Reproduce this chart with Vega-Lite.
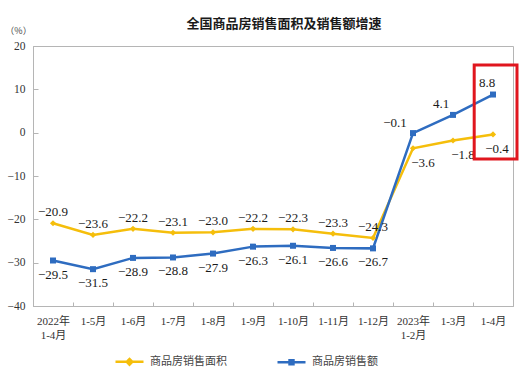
{
  "$schema": "https://vega.github.io/schema/vega-lite/v6.json",
  "width": 480,
  "height": 260,
  "autosize": {"type": "none"},
  "padding": {"left": 33, "top": 46, "right": 18, "bottom": 70},
  "background": "white",
  "config": {
    "view": {"stroke": "#b5b5b5", "strokeWidth": 1}
  },
  "title": {
    "text": "全国商品房销售面积及销售额增速",
    "font": "Noto Sans CJK SC",
    "fontSize": 13,
    "fontWeight": "bold",
    "color": "#1a1a1a",
    "frame": "group",
    "anchor": "middle",
    "dx": 11,
    "offset": -5
  },
  "datasets": {
    "main": [
      {"m": "2022年|1-4月", "s": "商品房销售面积", "v": -20.9},
      {"m": "1-5月", "s": "商品房销售面积", "v": -23.6},
      {"m": "1-6月", "s": "商品房销售面积", "v": -22.2},
      {"m": "1-7月", "s": "商品房销售面积", "v": -23.1},
      {"m": "1-8月", "s": "商品房销售面积", "v": -23.0},
      {"m": "1-9月", "s": "商品房销售面积", "v": -22.2},
      {"m": "1-10月", "s": "商品房销售面积", "v": -22.3},
      {"m": "1-11月", "s": "商品房销售面积", "v": -23.3},
      {"m": "1-12月", "s": "商品房销售面积", "v": -24.3},
      {"m": "2023年|1-2月", "s": "商品房销售面积", "v": -3.6},
      {"m": "1-3月", "s": "商品房销售面积", "v": -1.8},
      {"m": "1-4月", "s": "商品房销售面积", "v": -0.4},
      {"m": "2022年|1-4月", "s": "商品房销售额", "v": -29.5},
      {"m": "1-5月", "s": "商品房销售额", "v": -31.5},
      {"m": "1-6月", "s": "商品房销售额", "v": -28.9},
      {"m": "1-7月", "s": "商品房销售额", "v": -28.8},
      {"m": "1-8月", "s": "商品房销售额", "v": -27.9},
      {"m": "1-9月", "s": "商品房销售额", "v": -26.3},
      {"m": "1-10月", "s": "商品房销售额", "v": -26.1},
      {"m": "1-11月", "s": "商品房销售额", "v": -26.6},
      {"m": "1-12月", "s": "商品房销售额", "v": -26.7},
      {"m": "2023年|1-2月", "s": "商品房销售额", "v": -0.1},
      {"m": "1-3月", "s": "商品房销售额", "v": 4.1},
      {"m": "1-4月", "s": "商品房销售额", "v": 8.8}
    ],
    "box": [
      {"x1": 11.03, "x2": 12.1, "y1": 15.6, "y2": -6.1}
    ]
  },
  "layer": [
    {
      "data": {"name": "main"},
      "encoding": {
        "x": {
          "field": "m",
          "type": "nominal",
          "sort": null,
          "scale": {"type": "band", "paddingInner": 0, "paddingOuter": 0},
          "axis": {
            "title": null,
            "labelAngle": 0,
            "labelExpr": "split(datum.label, '|')",
            "labelFont": "Liberation Serif, Noto Sans CJK SC",
            "labelFontSize": 11,
            "labelColor": "#333333",
            "labelLineHeight": 14,
            "labelBaseline": "top",
            "tickBand": "extent",
            "tickSize": -4,
            "labelPadding": 13,
            "tickColor": "#b5b5b5",
            "domainColor": "#b5b5b5",
            "grid": false
          }
        },
        "y": {
          "field": "v",
          "type": "quantitative",
          "scale": {"domain": [-40, 20], "nice": false, "zero": false},
          "axis": {
            "values": [-40, -30, -20, -10, 0, 10, 20],
            "grid": false,
            "title": "（%）",
            "titleAngle": 0,
            "titleX": -15,
            "titleY": -16,
            "titleAlign": "center",
            "titleBaseline": "middle",
            "titleFont": "Noto Sans CJK SC",
            "titleFontSize": 9,
            "titleFontWeight": "normal",
            "titleColor": "#444444",
            "labelFont": "Liberation Serif",
            "labelFontSize": 11.5,
            "labelColor": "#333333",
            "tickSize": -5,
            "labelPadding": 13,
            "tickColor": "#b5b5b5",
            "domainColor": "#b5b5b5"
          }
        },
        "color": {
          "field": "s",
          "type": "nominal",
          "sort": null,
          "scale": {"domain": ["商品房销售面积", "商品房销售额"], "range": ["#F5BE0B", "#2E6CC0"]},
          "legend": {
            "title": null,
            "orient": "none",
            "direction": "horizontal",
            "legendX": 81,
            "legendY": 300,
            "symbolSize": 784,
            "symbolStrokeWidth": 2.5,
            "labelFont": "Noto Sans CJK SC",
            "labelFontSize": 11,
            "labelColor": "#444444",
            "labelOffset": 5,
            "columnPadding": 45,
            "encode": {
              "symbols": {
                "update": {
                  "shape": {"signal": "datum.value === '商品房销售面积' ? 'M-1,0H1M-0.2,0L0,-0.2L0.2,0L0,0.2Z' : 'M-1,0H1M-0.14,-0.14H0.14V0.14H-0.14Z'"},
                  "fill": {"scale": "color", "field": "value"},
                  "strokeWidth": {"value": 2.5}
                }
              }
            }
          }
        }
      },
      "layer": [
        {"mark": {"type": "line", "strokeWidth": 2.5}},
        {
          "transform": [{"filter": "datum.s === '商品房销售面积'"}],
          "mark": {"type": "point", "filled": true, "size": 38, "opacity": 1, "shape": "diamond"}
        },
        {
          "transform": [{"filter": "datum.s === '商品房销售额'"}],
          "mark": {"type": "point", "filled": true, "size": 36, "opacity": 1, "shape": "square"}
        },
        {
          "transform": [{"filter": "datum.s === '商品房销售面积' && indexof(['2023年|1-2月', '1-3月', '1-4月'], datum.m) < 0"}],
          "mark": {"type": "text", "dy": -11, "font": "Liberation Serif", "fontSize": 13},
          "encoding": {"text": {"field": "v", "format": ".1f"}, "color": {"value": "#1a1a1a"}}
        },
        {
          "transform": [{"filter": "datum.s === '商品房销售额' && indexof(['2023年|1-2月', '1-3月', '1-4月'], datum.m) < 0"}],
          "mark": {"type": "text", "dy": 14, "font": "Liberation Serif", "fontSize": 13},
          "encoding": {"text": {"field": "v", "format": ".1f"}, "color": {"value": "#1a1a1a"}}
        },
        {
          "transform": [{"filter": "datum.s === '商品房销售面积' && indexof(['2023年|1-2月', '1-3月'], datum.m) >= 0"}],
          "mark": {"type": "text", "dx": 10, "dy": 15, "font": "Liberation Serif", "fontSize": 13},
          "encoding": {"text": {"field": "v", "format": ".1f"}, "color": {"value": "#1a1a1a"}}
        },
        {
          "transform": [{"filter": "datum.s === '商品房销售面积' && datum.m === '1-4月'"}],
          "mark": {"type": "text", "dx": 4, "dy": 15, "font": "Liberation Serif", "fontSize": 13},
          "encoding": {"text": {"field": "v", "format": ".1f"}, "color": {"value": "#1a1a1a"}}
        },
        {
          "transform": [{"filter": "datum.s === '商品房销售额' && datum.m === '2023年|1-2月'"}],
          "mark": {"type": "text", "dx": -18, "dy": -10, "font": "Liberation Serif", "fontSize": 13},
          "encoding": {"text": {"field": "v", "format": ".1f"}, "color": {"value": "#1a1a1a"}}
        },
        {
          "transform": [{"filter": "datum.s === '商品房销售额' && datum.m === '1-3月'"}],
          "mark": {"type": "text", "dx": -12, "dy": -11, "font": "Liberation Serif", "fontSize": 13},
          "encoding": {"text": {"field": "v", "format": ".1f"}, "color": {"value": "#1a1a1a"}}
        },
        {
          "transform": [{"filter": "datum.s === '商品房销售额' && datum.m === '1-4月'"}],
          "mark": {"type": "text", "dx": -6, "dy": -12, "font": "Liberation Serif", "fontSize": 13},
          "encoding": {"text": {"field": "v", "format": ".1f"}, "color": {"value": "#1a1a1a"}}
        }
      ]
    },
    {
      "data": {"name": "box"},
      "mark": {"type": "rect", "fill": null, "fillOpacity": 0, "stroke": "#E0161E", "strokeWidth": 3},
      "encoding": {
        "x": {"field": "x1", "type": "quantitative", "scale": {"domain": [0, 12], "nice": false, "zero": false}, "axis": null},
        "x2": {"field": "x2"},
        "y": {"field": "y1", "type": "quantitative"},
        "y2": {"field": "y2"}
      }
    }
  ],
  "resolve": {"scale": {"x": "independent"}}
}
